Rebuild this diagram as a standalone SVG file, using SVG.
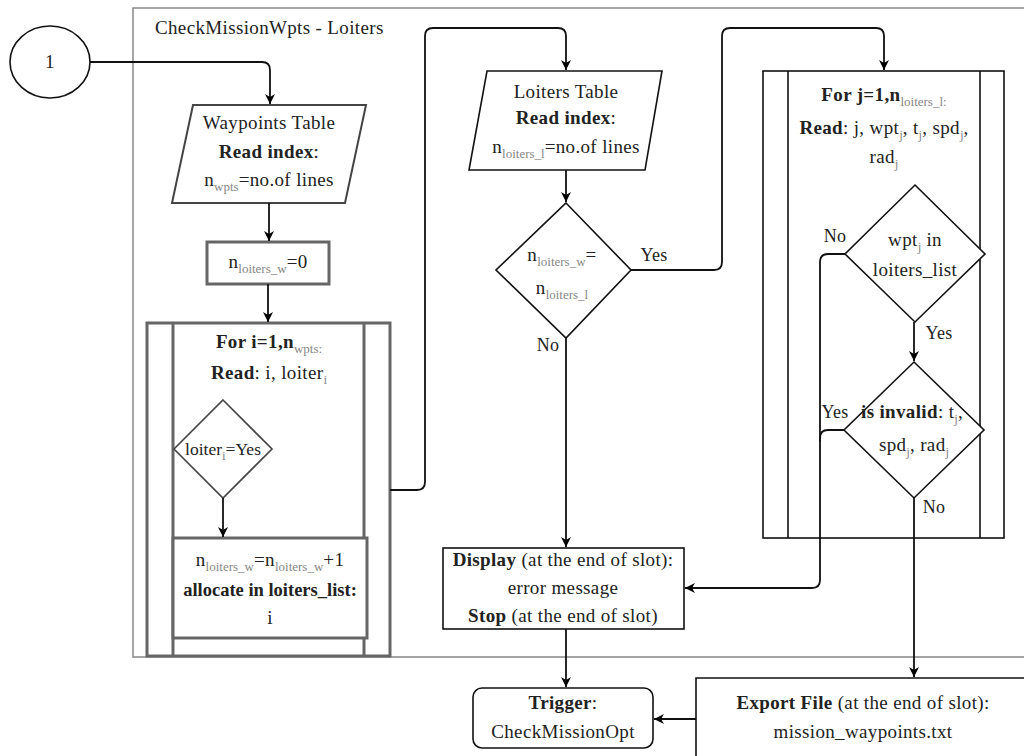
<svg xmlns="http://www.w3.org/2000/svg" width="1024" height="756" viewBox="0 0 1024 756">
<defs>
<marker id="arr" viewBox="0 0 10 10" refX="10" refY="5" markerWidth="10" markerHeight="10" markerUnits="userSpaceOnUse" orient="auto">
<path d="M0,0 L10,5 L0,10 L3,5 z" fill="#000"/>
</marker>
<style>
text{font-family:"Liberation Serif","Times New Roman",serif;font-size:19px;letter-spacing:0.35px;fill:#222;text-anchor:middle}
.b{font-weight:bold}
.s{font-size:13px;fill:#888;letter-spacing:0}
.lbl{font-size:18px}
.shape{fill:#fff;stroke:#111;stroke-width:1.6}
.gray{fill:#fff;stroke:#666;stroke-width:3}
.cont{fill:none;stroke:#888;stroke-width:1.5}
.conn path{fill:none;stroke:#111;stroke-width:1.8;marker-end:url(#arr)}
.conn path.nm{marker-end:none}
</style>
</defs>
<rect width="1024" height="756" fill="#fff"/>

<g id="container">
<path class="cont" d="M1024,8 H133 V657 H1024"/>
<text x="155" y="34" style="text-anchor:start">CheckMissionWpts - Loiters</text>
</g>

<g id="start">
<ellipse class="shape" cx="50" cy="62" rx="40" ry="36"/>
<text x="50" y="68">1</text>
</g>

<g id="waypoints-table">
<polygon class="shape" style="stroke:#444;stroke-width:2" points="193,105 366,105 345,203 172,203"/>
<text x="269" y="129">Waypoints Table</text>
<text x="269" y="158"><tspan class="b">Read index</tspan>:</text>
<text x="269" y="186">n<tspan class="s" dy="5">wpts</tspan><tspan dy="-5">=no.of lines</tspan></text>
</g>

<g id="init">
<rect class="gray" x="207" y="242" width="122" height="42"/>
<text x="268" y="268">n<tspan class="s" dy="5">loiters_w</tspan><tspan dy="-5">=0</tspan></text>
</g>

<g id="loop-i">
<rect class="gray" x="147" y="323" width="243" height="333"/>
<line x1="173" y1="323" x2="173" y2="656" stroke="#666" stroke-width="3"/>
<line x1="364" y1="323" x2="364" y2="656" stroke="#666" stroke-width="3"/>
<text x="269" y="348"><tspan class="b">For i=1,n</tspan><tspan class="s" dy="5">wpts:</tspan></text>
<text x="269" y="379"><tspan class="b">Read</tspan>: i, loiter<tspan class="s" dy="5">i</tspan></text>
</g>

<g id="dec-loiter">
<polygon class="shape" style="stroke:#444" points="223,400 272,449 223,498 174,449"/>
<text x="223" y="455" style="font-size:17.5px;letter-spacing:0">loiter<tspan class="s" dy="5">i</tspan><tspan dy="-5">=Yes</tspan></text>
</g>

<g id="allocate">
<rect class="gray" x="173" y="538" width="194" height="100"/>
<text x="270" y="566">n<tspan class="s" dy="5">loiters_w</tspan><tspan dy="-5">=n</tspan><tspan class="s" dy="5">loiters_w</tspan><tspan dy="-5">+1</tspan></text>
<text x="270" y="596" class="b" style="letter-spacing:0;font-size:18.5px">allocate in loiters_list:</text>
<text x="270" y="624">i</text>
</g>

<g id="loiters-table">
<polygon class="shape" points="487,71 662,71 645,170 469,170"/>
<text x="566" y="98">Loiters Table</text>
<text x="566" y="124"><tspan class="b">Read index</tspan>:</text>
<text x="566" y="153">n<tspan class="s" dy="5">loiters_l</tspan><tspan dy="-5">=no.of lines</tspan></text>
</g>

<g id="dec-count">
<polygon class="shape" points="566,203 631,270 566,338 496,270"/>
<text x="562" y="261">n<tspan class="s" dy="5">loiters_w</tspan><tspan dy="-5">=</tspan></text>
<text x="562" y="294">n<tspan class="s" dy="5">loiters_l</tspan></text>
</g>

<g id="loop-j">
<rect class="shape" x="763" y="71" width="241" height="467"/>
<line x1="788" y1="71" x2="788" y2="538" stroke="#111" stroke-width="1.6"/>
<line x1="980" y1="71" x2="980" y2="538" stroke="#111" stroke-width="1.6"/>
<text x="884" y="101"><tspan class="b">For j=1,n</tspan><tspan class="s" dy="5">loiters_l:</tspan></text>
<text x="884" y="134"><tspan class="b">Read</tspan>: j, wpt<tspan class="s" dy="5">j</tspan><tspan dy="-5">, t</tspan><tspan class="s" dy="5">j</tspan><tspan dy="-5">, spd</tspan><tspan class="s" dy="5">j</tspan><tspan dy="-5">,</tspan></text>
<text x="884" y="163">rad<tspan class="s" dy="5">j</tspan></text>
</g>

<g id="dec-wpt">
<polygon class="shape" points="915,185 985,254 915,322 845,254"/>
<text x="915" y="246">wpt<tspan class="s" dy="5">j</tspan><tspan dy="-5"> in</tspan></text>
<text x="915" y="276">loiters_list</text>
</g>

<g id="dec-invalid">
<polygon class="shape" points="914,362 984,430 914,498 844,430"/>
<text x="912" y="418"><tspan class="b">is invalid</tspan>: t<tspan class="s" dy="5">j</tspan><tspan dy="-5">,</tspan></text>
<text x="914" y="451">spd<tspan class="s" dy="5">j</tspan><tspan dy="-5">, rad</tspan><tspan class="s" dy="5">j</tspan></text>
</g>

<g id="display">
<rect class="shape" x="443" y="548" width="241" height="81"/>
<text x="563" y="566"><tspan class="b">Display</tspan> (at the end of slot):</text>
<text x="563" y="594">error message</text>
<text x="563" y="622"><tspan class="b">Stop</tspan> (at the end of slot)</text>
</g>

<g id="trigger">
<rect class="shape" x="473" y="688" width="180" height="60" rx="9"/>
<text x="563" y="709"><tspan class="b">Trigger</tspan>:</text>
<text x="563" y="738">CheckMissionOpt</text>
</g>

<g id="export">
<path class="shape" d="M1026,678 H696 V758 H1026 Z"/>
<text x="863" y="709"><tspan class="b">Export File</tspan> (at the end of slot):</text>
<text x="863" y="738">mission_waypoints.txt</text>
</g>

<g class="conn" id="connectors">
<path d="M90,62 H262 Q270,62 270,70 V104"/>
<path d="M269,203 V241"/>
<path d="M268,284 V322"/>
<path d="M223,498 V537"/>
<path d="M390,490 H417 Q425,490 425,482 V36 Q425,28 433,28 H558 Q566,28 566,36 V70"/>
<path d="M566,170 V202"/>
<path d="M631,270 H714 Q722,270 722,262 V36 Q722,28 730,28 H876 Q884,28 884,36 V70"/>
<path d="M566,338 V547"/>
<path d="M566,629 V687"/>
<path d="M696,719 H654"/>
<path d="M845,254 H828 Q820,254 820,262 V580 Q820,588 812,588 H685"/>
<path class="nm" d="M844,430 H828 Q820,430 820,438 V442"/>
<path d="M914,322 V361"/>
<path d="M914,498 V677"/>
</g>

<g id="labels">
<text class="lbl" x="654" y="261">Yes</text>
<text class="lbl" x="548" y="351">No</text>
<text class="lbl" x="835" y="242">No</text>
<text class="lbl" x="939" y="339">Yes</text>
<text class="lbl" x="835" y="418">Yes</text>
<text class="lbl" x="934" y="513">No</text>
</g>
</svg>
